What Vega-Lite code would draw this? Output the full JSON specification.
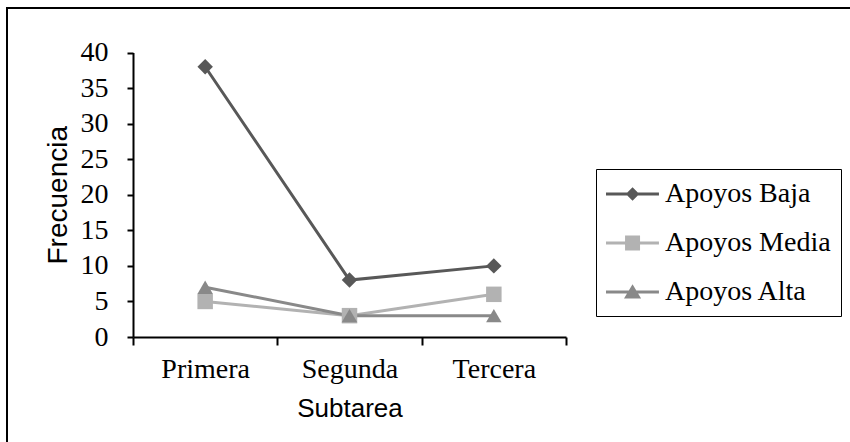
{
  "$schema": "https://vega.github.io/schema/vega-lite/v6.json",
  "autosize": {"type": "none"},
  "width": 847,
  "height": 438,
  "padding": {"left": 7, "top": 8, "right": -4, "bottom": -4},
  "background": "white",
  "config": {
    "view": {"stroke": "black", "strokeWidth": 2, "fill": "white"},
    "axis": {
      "grid": false,
      "domainColor": "black",
      "domainWidth": 2,
      "tickColor": "black",
      "tickWidth": 2,
      "labelFont": "Liberation Serif",
      "labelFontSize": 28,
      "labelColor": "black",
      "titleFont": "Liberation Sans",
      "titleFontWeight": "normal",
      "titleColor": "black"
    },
    "legend": {
      "labelFont": "Liberation Serif",
      "labelFontSize": 28,
      "labelColor": "black",
      "strokeColor": "black",
      "padding": 10,
      "rowPadding": 20,
      "labelOffset": 29,
      "symbolSize": 900,
      "symbolStrokeWidth": 0,
      "labelLimit": 400
    }
  },
  "data": {
    "values": [
      {"subtarea": "Primera", "serie": "Apoyos Baja", "frecuencia": 38},
      {"subtarea": "Segunda", "serie": "Apoyos Baja", "frecuencia": 8},
      {"subtarea": "Tercera", "serie": "Apoyos Baja", "frecuencia": 10},
      {"subtarea": "Primera", "serie": "Apoyos Media", "frecuencia": 5},
      {"subtarea": "Segunda", "serie": "Apoyos Media", "frecuencia": 3},
      {"subtarea": "Tercera", "serie": "Apoyos Media", "frecuencia": 6},
      {"subtarea": "Primera", "serie": "Apoyos Alta", "frecuencia": 7},
      {"subtarea": "Segunda", "serie": "Apoyos Alta", "frecuencia": 3},
      {"subtarea": "Tercera", "serie": "Apoyos Alta", "frecuencia": 3}
    ]
  },
  "resolve": {"scale": {"color": "independent", "shape": "independent"}},
  "layer": [
    {
      "mark": {"type": "line", "strokeWidth": 3},
      "encoding": {
        "x": {
          "field": "subtarea",
          "type": "nominal",
          "sort": ["Primera", "Segunda", "Tercera"],
          "scale": {"range": [126, 559], "paddingInner": 0, "paddingOuter": 0},
          "axis": {
            "title": "Subtarea",
            "titleFontSize": 26,
            "titlePadding": 12,
            "labelAngle": 0,
            "labelPadding": 10,
            "tickSize": 8,
            "tickBand": "extent",
            "offset": -109
          }
        },
        "y": {
          "field": "frecuencia",
          "type": "quantitative",
          "scale": {"domain": [0, 40], "range": [329, 44.5], "nice": false},
          "axis": {
            "title": "Frecuencia",
            "titleFontSize": 28,
            "titlePadding": 8,
            "values": [0, 5, 10, 15, 20, 25, 30, 35, 40],
            "tickSize": 6,
            "labelPadding": 19,
            "offset": -126
          }
        },
        "color": {
          "field": "serie",
          "type": "nominal",
          "scale": {"domain": ["Apoyos Baja", "Apoyos Media", "Apoyos Alta"], "range": ["#585858", "#b2b2b2", "#898989"]},
          "legend": null
        }
      }
    },
    {
      "mark": {"type": "point", "filled": true, "opacity": 1, "strokeWidth": 0},
      "encoding": {
        "x": {"field": "subtarea", "type": "nominal", "sort": ["Primera", "Segunda", "Tercera"]},
        "y": {"field": "frecuencia", "type": "quantitative"},
        "color": {
          "field": "serie",
          "type": "nominal",
          "scale": {"domain": ["Apoyos Baja", "Apoyos Media", "Apoyos Alta"], "range": ["#585858", "#b2b2b2", "#898989"]},
          "legend": null
        },
        "shape": {
          "field": "serie",
          "type": "nominal",
          "scale": {"domain": ["Apoyos Baja", "Apoyos Media", "Apoyos Alta"], "range": ["diamond", "square", "triangle-up"]},
          "legend": null
        },
        "size": {"value": 240}
      }
    },
    {
      "transform": [{"filter": "false"}],
      "mark": {"type": "point", "filled": true, "opacity": 1, "strokeWidth": 0},
      "encoding": {
        "color": {
          "field": "serie",
          "type": "nominal",
          "scale": {"domain": ["Apoyos Baja", "Apoyos Media", "Apoyos Alta"], "range": ["#585858", "#b2b2b2", "#898989"]},
          "legend": {"title": null, "orient": "none", "legendX": 589, "legendY": 161}
        },
        "shape": {
          "field": "serie",
          "type": "nominal",
          "scale": {
            "domain": ["Apoyos Baja", "Apoyos Media", "Apoyos Alta"],
            "range": [
              "M-1,-0.1H2.53V0.1H-1Z M0.77,-0.45L1.22,0L0.77,0.45L0.32,0Z",
              "M-1,-0.1H2.53V0.1H-1Z M0.27,-0.5H1.27V0.5H0.27Z",
              "M-1,-0.1H2.53V0.1H-1Z M0.77,-0.52L1.34,0.43H0.2Z"
            ]
          },
          "legend": {"title": null, "orient": "none", "legendX": 589, "legendY": 161}
        }
      }
    }
  ]
}
